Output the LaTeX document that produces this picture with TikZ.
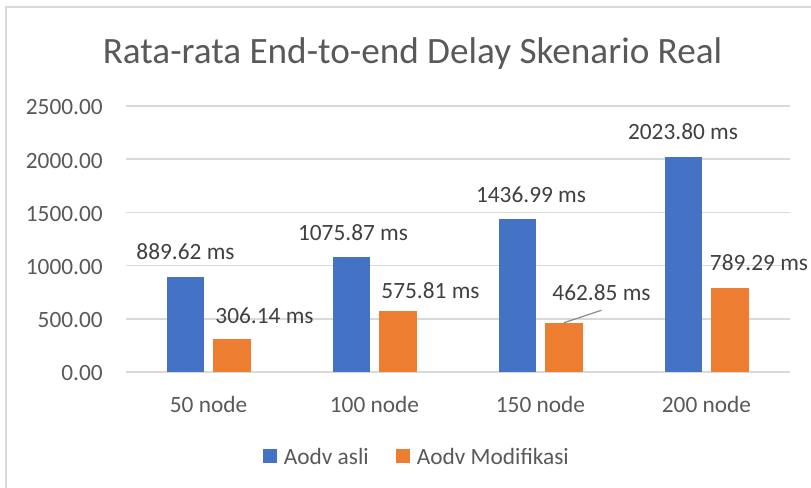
\documentclass[tikz,border=0pt]{standalone}
\usepackage{fontspec}
\setmainfont{Carlito}
\usetikzlibrary{positioning}
\definecolor{gridgray}{HTML}{D9D9D9}
\definecolor{axisgray}{HTML}{595959}
\definecolor{labelgray}{HTML}{404040}
\definecolor{aodvblue}{HTML}{4472C4}
\definecolor{aodvorange}{HTML}{ED7D31}

\begin{document}
\begin{tikzpicture}[x=0.75pt, y=-0.75pt,
		every node/.style={inner sep=0pt, anchor=base},
		gridline/.style={draw=gridgray, line width=1.1pt},
		frame/.style={draw=gridgray, line width=1.5pt},
		axislbl/.style={text=axisgray, font=\fontsize{17.5}{21}\selectfont},
		valuelbl/.style={text=labelgray, font=\fontsize{17.5}{21}\selectfont},
		bluebar/.style={fill=aodvblue},
		orangebar/.style={fill=aodvorange},
		leader/.style={draw=axisgray!70, line width=0.9pt},
		legkey/.style={minimum size=10pt, anchor=center}]
		\useasboundingbox (0,0) rectangle (811,488);
		\draw[frame] (6,488) -- (6,7) -- (811,7);
		
		% title
		\node[text=axisgray, font=\fontsize{27.9}{33}\selectfont] (title)at(412.5,64) {Rata-rata End-to-end Delay Skenario Real};
		
		% value axis
		\draw[gridline] (126,106) -- (790,106);
		\draw[gridline] (126,159.2) -- (790,159.2);
		\draw[gridline] (126,212.4) -- (790,212.4);
		\draw[gridline] (126,265.6) -- (790,265.6);
		\draw[gridline] (126,318.8) -- (790,318.8);
		\draw[gridline] (126,372) -- (790,372);
		\node[axislbl, anchor=base east] (y2500)at(103,115) {2500.00};
		\node[axislbl, anchor=base east] (y2000)at(103,168.2) {2000.00};
		\node[axislbl, anchor=base east] (y1500)at(103,221.4) {1500.00};
		\node[axislbl, anchor=base east] (y1000)at(103,274.6) {1000.00};
		\node[axislbl, anchor=base east] (y500)at(103,327.8) {500.00};
		\node[axislbl, anchor=base east] (y0)at(103,381) {0.00};
		
		% bars
		\fill[bluebar] (167,372) rectangle (204,277.3);
		\fill[orangebar] (213,372) rectangle (251,339.4);
		\fill[bluebar] (333,372) rectangle (370,257.5);
		\fill[orangebar] (379,372) rectangle (417,310.7);
		\fill[bluebar] (499,372) rectangle (536,219.1);
		\fill[orangebar] (545,372) rectangle (583,322.7);
		\fill[bluebar] (665,372) rectangle (702,156.7);
		\fill[orangebar] (711,372) rectangle (749,288.0);
		
		% data labels
		\node[valuelbl] (lbl1a)at(185.5,260) {889.62 ms};
		\node[valuelbl] (lbl1b)at(264.5,323.5) {306.14 ms};
		\node[valuelbl] (lbl2a)at(353,240.5) {1075.87 ms};
		\node[valuelbl] (lbl2b)at(430.5,298.5) {575.81 ms};
		\node[valuelbl] (lbl3a)at(531,203) {1436.99 ms};
		\node[valuelbl] (lbl3b)at(601.5,301) {462.85 ms};
		\node[valuelbl] (lbl4a)at(683,140) {2023.80 ms};
		\node[valuelbl] (lbl4b)at(759,270.5) {789.29 ms};
		\coordinate (top3b)at(564,322.7);
		\draw[leader] (top3b) -- ([yshift=-6.6pt]lbl3b.south);
		
		% category axis
		\node[axislbl] (cat1)at(208.5,412) {50 node};
		\node[axislbl] (cat2)at(374.5,412) {100 node};
		\node[axislbl] (cat3)at(540.5,412) {150 node};
		\node[axislbl] (cat4)at(706.5,412) {200 node};
		
		% legend
		\node[legkey, fill=aodvblue] (key1)at(270,456) {};
		\node[axislbl, anchor=west, right=5pt of key1] (leg1) {Aodv asli};
		\node[legkey, fill=aodvorange] (key2)at(403,456) {};
		\node[axislbl, anchor=west, right=5pt of key2] (leg2) {Aodv Modifikasi};
	\end{tikzpicture}
\end{document}
